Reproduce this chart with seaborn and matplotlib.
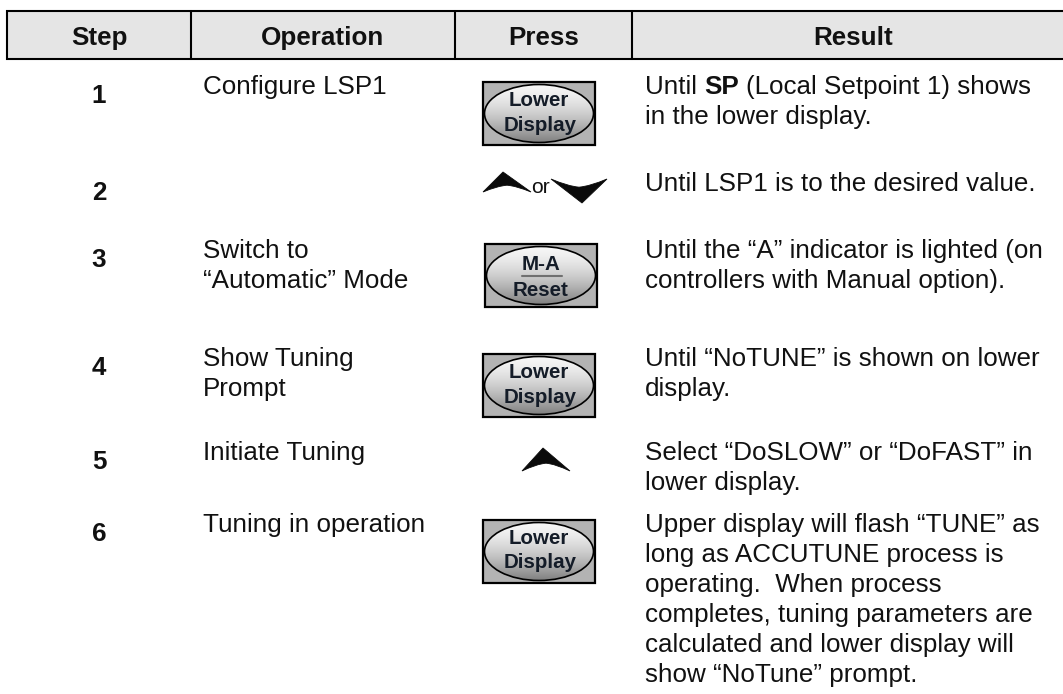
import matplotlib
matplotlib.use("Agg")
import matplotlib.pyplot as plt
from matplotlib.patches import Rectangle, Ellipse, PathPatch
from matplotlib.path import Path
import numpy as np
import seaborn as sns

# table contents
headers = ["Step", "Operation", "Press", "Result"]
steps = ["1", "2", "3", "4", "5", "6"]
operations = [
    ["Configure LSP1"],
    [],
    ["Switch to", "\u201cAutomatic\u201d Mode"],
    ["Show Tuning", "Prompt"],
    ["Initiate Tuning"],
    ["Tuning in operation"],
]
press_keys = ["lower", "updown", "mareset", "lower", "up", "lower"]
results = [
    ["Until **SP** (Local Setpoint 1) shows", "in the lower display."],
    ["Until LSP1 is to the desired value."],
    ["Until the \u201cA\u201d indicator is lighted (on", "controllers with Manual option)."],
    ["Until \u201cNoTUNE\u201d is shown on lower", "display."],
    ["Select \u201cDoSLOW\u201d or \u201cDoFAST\u201d in", "lower display."],
    ["Upper display will flash \u201cTUNE\u201d as", "long as ACCUTUNE process is",
     "operating.  When process", "completes, tuning parameters are",
     "calculated and lower display will", "show \u201cNoTune\u201d prompt."],
]

# layout (pixels)
W, H = 1063, 694
row_base = [94, 191, 258, 366, 460, 532]
line_h = 30
col_lines = [7, 191, 455, 632, 1075]
step_x, op_x, press_x, res_x = 99, 203, 539, 645
fs = 26 * 72 / 100          # 26 px text
btn_fs = 20.5 * 72 / 100
txt = "#111111"

sns.set_theme(style="white")
plt.rcParams['font.family'] = ['Liberation Sans', 'DejaVu Sans']

fig = plt.figure(figsize=(W / 100, H / 100), dpi=100)
ax = fig.add_axes([0, 0, 1, 1])
ax.set_xlim(0, W)
ax.set_ylim(H, 0)
ax.axis('off')

# header
ax.add_patch(Rectangle((col_lines[0], 11), col_lines[-1] - col_lines[0], 48,
                       fc="#e5e5e5", ec="black", lw=1.5, zorder=1))
for x in col_lines[1:-1]:
    ax.plot([x, x], [11, 59], color="black", lw=1.5, zorder=2)
for i, h in enumerate(headers):
    cx = (col_lines[i] + col_lines[i + 1]) / 2
    ax.text(cx, 45, h, fontsize=fs, fontweight="bold", ha="center", va="baseline", color=txt)

fig.canvas.draw()
rend = fig.canvas.get_renderer()


def width(s, weight="normal"):
    t = ax.text(0, 0, s, fontsize=fs, fontweight=weight)
    w = t.get_window_extent(renderer=rend).width
    t.remove()
    return w


space_w = width("a a") - width("aa")


def rich_line(x, y, s):
    parts = s.split("**")
    for k, p in enumerate(parts):
        wt = "bold" if k % 2 else "normal"
        core = p.strip(" ")
        x += (len(p) - len(p.lstrip(" "))) * space_w
        if core:
            ax.text(x, y, core, fontsize=fs, fontweight=wt, ha="left", va="baseline", color=txt)
            x += width(core, wt)
            x += (len(p) - len(p.rstrip(" "))) * space_w


def button(cx, top, lines, underline=False):
    w, h = 112, 63
    x0 = cx - w / 2
    ax.add_patch(Rectangle((x0, top), w, h, fc="#b3b3b3", ec="black", lw=1.6, zorder=2))
    ell = Ellipse((cx, top + h / 2), w - 3, h - 5, fc="none", ec="black", lw=1.2, zorder=4)
    ax.add_patch(ell)
    t = np.linspace(0, 1, 80)
    g = 0.97 - 0.5 * t ** 1.6
    img = np.stack([g, g, g], axis=-1).reshape(80, 1, 3)
    im = ax.imshow(img, extent=(x0, x0 + w, top + h, top), origin="upper",
                   aspect="auto", interpolation="bilinear", zorder=3)
    im.set_clip_path(ell)
    if underline:
        ax.text(cx, top + 20, lines[0], fontsize=btn_fs, fontweight="bold",
                ha="center", va="center", color="#141c28", zorder=5)
        ax.plot([cx - 19, cx + 21], [top + 32, top + 32], color="#707070", lw=1.5, zorder=5)
        ax.text(cx, top + 46, lines[1], fontsize=btn_fs, fontweight="bold",
                ha="center", va="center", color="#141c28", zorder=5)
    else:
        ax.text(cx, top + 18, lines[0], fontsize=btn_fs, fontweight="bold",
                ha="center", va="center", color="#141c28", zorder=5)
        ax.text(cx + 1, top + 43, lines[1], fontsize=btn_fs, fontweight="bold",
                ha="center", va="center", color="#141c28", zorder=5)


def chevron(cx, ytip, w, h, up=True, skew=0):
    s = 1 if up else -1
    pts = [(-w / 2, h), (skew, 0), (w / 2, h),
           (w / 5, 0.7 * h), (0, 0.66 * h),
           (-w / 5, 0.7 * h), (-w / 2, h), (0, 0)]
    codes = [Path.MOVETO, Path.LINETO, Path.LINETO,
             Path.CURVE3, Path.CURVE3, Path.CURVE3, Path.CURVE3, Path.CLOSEPOLY]
    verts = [(cx + px, ytip + s * py) for px, py in pts]
    ax.add_patch(PathPatch(Path(verts, codes), fc="#0a0a0a", ec="#0a0a0a", lw=0.6,
                           joinstyle="miter", zorder=3))


for i in range(len(steps)):
    yb = row_base[i]
    ax.text(step_x, yb + 9, steps[i], fontsize=fs, fontweight="bold",
            ha="center", va="baseline", color=txt)
    for j, line in enumerate(operations[i]):
        ax.text(op_x, yb + j * line_h, line, fontsize=fs, ha="left", va="baseline", color=txt)
    for j, line in enumerate(results[i]):
        rich_line(res_x, yb + j * line_h, line)
    key = press_keys[i]
    if key == "lower":
        button(press_x, yb - 12, ["Lower", "Display"])
    elif key == "mareset":
        button(press_x + 2, yb - 14, ["M-A", "Reset"], underline=True)
    elif key == "updown":
        chevron(507, yb - 19, 48, 20, up=True, skew=-4)
        ax.text(541, yb + 2, "or", fontsize=21 * 72 / 100, ha="center", va="baseline", color=txt)
        chevron(579, yb + 12, 56, 24, up=False, skew=3)
    elif key == "up":
        chevron(546, yb - 12, 48, 23, up=True, skew=-3)

ax.set_xlim(0, W)
ax.set_ylim(H, 0)
fig.savefig("out.png", dpi=100)
